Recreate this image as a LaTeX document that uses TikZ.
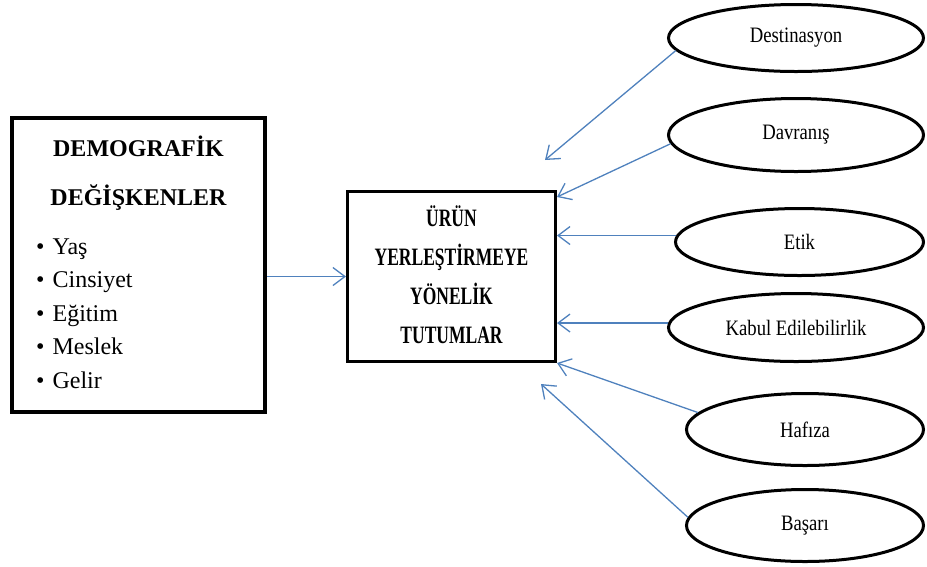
\documentclass[tikz,border=0pt]{standalone}
\usepackage{fontspec}
\setmainfont{Liberation Serif}
\newfontfamily\narrowfont[FakeStretch=0.7]{Liberation Serif}
\newfontfamily\ovalfont[FakeStretch=0.85]{Liberation Serif}
\usetikzlibrary{
    arrows.meta,
    shapes.geometric
}
\definecolor{linkblue}{RGB}{79,129,189}

\begin{document}
\begin{tikzpicture}[x=1pt, y=-1pt,
    oval/.style={draw, ellipse, line width=3pt, inner sep=0pt, font=\ovalfont\fontsize{22}{26}\selectfont},
    link/.style={draw=linkblue, line width=1.3pt, -{Straight Barb[length=12pt,width=18pt]}},
    headtext/.style={anchor=base, inner sep=0pt, font=\bfseries\fontsize{24}{28}\selectfont},
    itemtext/.style={anchor=base west, inner sep=0pt, font=\fontsize{24}{28}\selectfont},
    boxtext/.style={anchor=base, inner sep=0pt, font=\narrowfont\bfseries\fontsize{25}{30}\selectfont}]

\useasboundingbox (0,0) rectangle (927,566);

% Demographic variables box
\node[draw, line width=4pt, minimum width=253pt, minimum height=294pt] (demo) at (138.5,265) {};
\node[headtext] (demoA) at (138.5,156) {DEMOGRAFİK};
\node[headtext] (demoB) at (138.5,205) {DEĞİŞKENLER};
\node[itemtext] (yas) at (36,254) {\textbullet\hspace{8pt}Yaş};
\node[itemtext] (cins) at (36,287.5) {\textbullet\hspace{8pt}Cinsiyet};
\node[itemtext] (egit) at (36,321) {\textbullet\hspace{8pt}Eğitim};
\node[itemtext] (mesl) at (36,354.5) {\textbullet\hspace{8pt}Meslek};
\node[itemtext] (gelir) at (36,388) {\textbullet\hspace{8pt}Gelir};

% Attitudes box
\node[draw, line width=3pt, minimum width=208pt, minimum height=170pt] (ctr) at (451.5,276.5) {};
\node[boxtext] (ctrA) at (451.5,226) {ÜRÜN};
\node[boxtext] (ctrB) at (451.5,265) {YERLEŞTİRMEYE};
\node[boxtext] (ctrC) at (451.5,304) {YÖNELİK};
\node[boxtext] (ctrD) at (451.5,343) {TUTUMLAR};

% Factors
\node[oval, minimum width=255pt, minimum height=67pt] (dest) at (796,38) {Destinasyon};
\node[oval, minimum width=255pt, minimum height=73pt] (dav) at (796,135) {Davranış};
\node[oval, minimum width=248pt, minimum height=67pt] (etik) at (799.5,242) {Etik};
\node[oval, minimum width=255pt, minimum height=68pt] (kabul) at (796,327.5) {Kabul Edilebilirlik};
\node[oval, minimum width=237pt, minimum height=72pt] (haf) at (805,429.5) {Hafıza};
\node[oval, minimum width=237pt, minimum height=72pt] (bas) at (805,525.5) {Başarı};

% Arrows
\coordinate (tipA) at (545,160);
\coordinate (tipF) at (541,384);
\draw[link] (dest.186) -- (tipA);
\draw[link] (dav.184) -- (ctr.37);
\draw[link] (etik.177) -- (etik.177 -| ctr.east);
\draw[link] (kabul.178) -- (kabul.178 -| ctr.east);
\draw[link] (haf.171) -- (ctr.south east);
\draw[link] (bas.176) -- (tipF);
\draw[link] (ctr.west -| demo.east) -- (ctr.west);

\end{tikzpicture}
\end{document}
